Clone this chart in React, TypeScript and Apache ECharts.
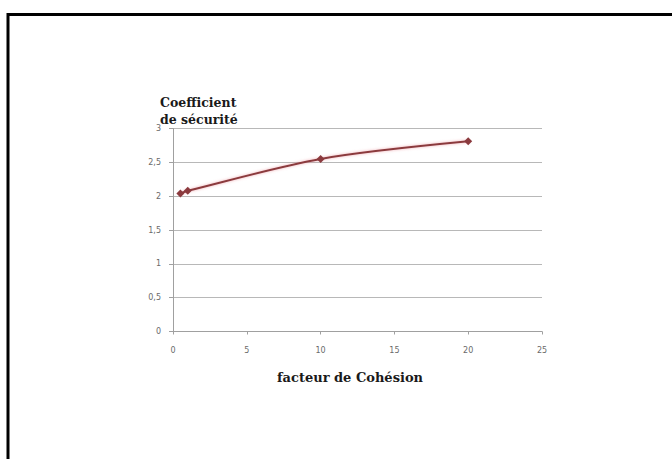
import React, { useEffect, useRef } from "react";
import * as echarts from "echarts";

const cohesion = [0.5, 1, 10, 20];
const securite = [2.04, 2.08, 2.55, 2.81];
const yTitleLines = ["Coefficient", "de sécurité"];
const xTitle = "facteur de Cohésion";

export default function App() {
  const ref = useRef<HTMLDivElement>(null);
  useEffect(() => {
    const chart = echarts.init(ref.current!, undefined, { renderer: "svg" });
    const tickStyle = { color: "#6a6a6a", fontSize: 8, fontFamily: "DejaVu Sans" };
    chart.setOption({
      animation: false,
      backgroundColor: "#fff",
      grid: { left: 173, right: 130, top: 128.5, bottom: 127.5 },
      xAxis: {
        type: "value",
        min: 0,
        max: 25,
        interval: 5,
        axisLine: { show: true, lineStyle: { color: "#a0a0a0", width: 1 } },
        axisTick: { show: true, length: 3, lineStyle: { color: "#a0a0a0" } },
        splitLine: { show: false },
        axisLabel: { ...tickStyle, margin: 15 },
      },
      yAxis: {
        type: "value",
        min: 0,
        max: 3,
        interval: 0.5,
        axisLine: { show: true, lineStyle: { color: "#a0a0a0", width: 1 } },
        axisTick: { show: true, length: 4, lineStyle: { color: "#a0a0a0" } },
        splitLine: { show: true, lineStyle: { color: "#b8b8b8", width: 1 } },
        axisLabel: {
          ...tickStyle,
          margin: 12,
          formatter: (v: number) => String(v).replace(".", ","),
        },
      },
      series: [
        {
          type: "line",
          data: cohesion.map((x, i) => [x, securite[i]]),
          smooth: 0.3,
          symbol: "diamond",
          symbolSize: 8,
          lineStyle: { color: "#8b3a3e", width: 2, shadowColor: "rgba(230,120,130,0.6)", shadowBlur: 3 },
          itemStyle: { color: "#8b3a3e" },
        },
      ],
      graphic: [
        {
          type: "rect",
          shape: { x: 8, y: 14.5, width: 700, height: 500 },
          style: { fill: "none", stroke: "#000", lineWidth: 3 },
          silent: true,
        },
        {
          type: "text",
          x: 160,
          y: 94,
          style: {
            text: yTitleLines.join("\n"),
            font: "bold 12.5px 'DejaVu Serif'",
            fill: "#1a1a1a",
            lineHeight: 17,
          },
        },
        {
          type: "text",
          x: 350,
          y: 377,
          style: {
            text: xTitle,
            font: "bold 13px 'DejaVu Serif'",
            fill: "#1a1a1a",
            align: "center",
            verticalAlign: "middle",
          },
        },
      ],
    });
    return () => chart.dispose();
  }, []);
  return (
    <div
      ref={ref}
      style={{ position: "fixed", left: 0, top: 0, width: 672, height: 459 }}
    />
  );
}
